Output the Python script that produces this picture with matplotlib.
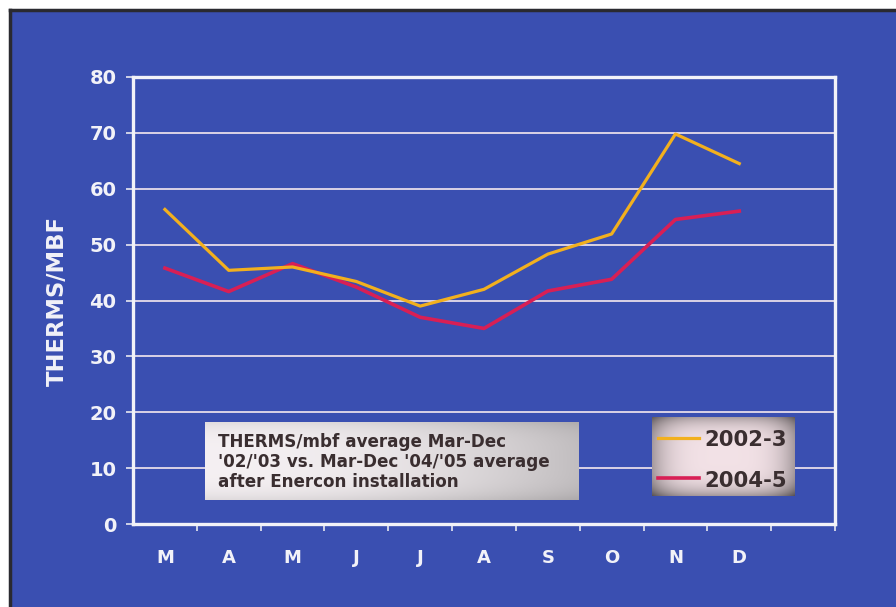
import numpy as np
import matplotlib.pyplot as plt
from matplotlib.patches import Rectangle

months = ['M', 'A', 'M', 'J', 'J', 'A', 'S', 'O', 'N', 'D']
y_2002 = [56.3, 45.4, 46.0, 43.4, 39.0, 42.0, 48.3, 51.9, 69.8, 64.5]
y_2004 = [45.8, 41.6, 46.6, 42.4, 37.0, 35.0, 41.7, 43.8, 54.5, 56.0]
yticks = [0, 10, 20, 30, 40, 50, 60, 70, 80]

W, H = 896, 607
blue = '#3a4fb1'
white = '#f2f2f8'
dark = '#3a2e30'
font = 'DejaVu Sans'

def fx(px):
    return px / W

def fy(py):
    return 1 - py / H

fig = plt.figure(figsize=(8.96, 6.07), dpi=100, facecolor='white')

# blue slide background with a dark top/left edge
fig.patches.append(Rectangle((fx(10), -0.1), 1.2, fy(10) + 0.1, transform=fig.transFigure,
                             facecolor=blue, edgecolor='none', lw=0, zorder=-10))
fig.lines.append(plt.Line2D([fx(10), 1.05], [fy(10), fy(10)], transform=fig.transFigure,
                            color='#2a2a30', lw=2.5, zorder=-9))
fig.lines.append(plt.Line2D([fx(10), fx(10)], [-0.05, fy(10)], transform=fig.transFigure,
                            color='#2a2a30', lw=2.5, zorder=-9))

ax = fig.add_axes([fx(133), fy(524), fx(835) - fx(133), fy(77) - fy(524)])
ax.set_facecolor(blue)

x = np.arange(len(months)) + 0.5
ax.plot(x, y_2002, color='#f2b01e', lw=2.3, zorder=3)
ax.plot(x, y_2004, color='#d81f55', lw=2.6, zorder=2)

ax.set_xlim(0, 11)
ax.set_ylim(0, 80)
ax.set_yticks(yticks)
ax.set_yticklabels([str(v) for v in yticks], fontsize=14, fontweight='bold',
                   color=white, family=font)
ax.set_xticks(x)
ax.set_xticklabels(months, fontsize=13, fontweight='bold', color=white, family=font)
ax.set_xticks(np.arange(1, 12), minor=True)
ax.tick_params(axis='x', which='major', length=0, pad=18)
ax.tick_params(axis='x', which='minor', length=5, width=1.2, color='#e8e8f0', direction='out')
ax.tick_params(axis='y', length=5, width=1.2, color='#e8e8f0', pad=7)

for v in yticks[1:-1]:
    ax.axhline(v, color='#e6dcea', lw=1.3, zorder=1)
for s in ax.spines.values():
    s.set_color(white)
    s.set_linewidth(2.4)

ax.set_ylabel('THERMS/MBF', fontsize=16.3, fontweight='bold', color=white,
              family=font, labelpad=15)

# note box, light grey gradient
gx = np.linspace(0, 1, 300)
gy = np.linspace(-1, 1, 60)[:, None]
note = 0.96 - 0.2 * gx ** 2 - 0.08 * gy ** 4
note_rgb = np.dstack([note, note * 0.98, note * 0.99])
bx = fig.add_axes([fx(205), fy(500), fx(578) - fx(205), fy(422) - fy(500)])
bx.imshow(np.clip(note_rgb, 0, 1), aspect='auto', extent=(0, 1, 0, 1))
bx.set_axis_off()
note_lines = ["THERMS/mbf average Mar-Dec",
              "'02/'03 vs. Mar-Dec '04/'05 average",
              "after Enercon installation"]
for i, line in enumerate(note_lines):
    fig.text(fx(218), fy(442 + 20 * i), line, fontsize=12.1, fontweight='bold',
             color=dark, family=font, va='center')

# legend box, grey-mauve with a light centre
lgx = np.linspace(-1, 1, 200)[None, :]
lgy = np.linspace(-1, 1, 80)[:, None]
shade = 0.95 - 0.3 * lgx ** 4 - 0.3 * lgy ** 4
leg = np.dstack([shade, shade * 0.93, shade * 0.95])
lx = fig.add_axes([fx(652), fy(496), fx(794) - fx(652), fy(417) - fy(496)])
lx.imshow(np.clip(leg, 0, 1), aspect='auto', extent=(0, 1, 0, 1))
lx.set_axis_off()
fig.lines.append(plt.Line2D([fx(658), fx(699)], [fy(438), fy(438)], transform=fig.transFigure,
                            color='#f2b01e', lw=2.3))
fig.lines.append(plt.Line2D([fx(658), fx(699)], [fy(478), fy(478)], transform=fig.transFigure,
                            color='#d81f55', lw=2.6))
fig.text(fx(704), fy(440), '2002-3', fontsize=15.3, fontweight='bold', color=dark,
         family=font, va='center')
fig.text(fx(704), fy(481), '2004-5', fontsize=15.3, fontweight='bold', color=dark,
         family=font, va='center')

fig.savefig('out.png', dpi=100, facecolor='white')
